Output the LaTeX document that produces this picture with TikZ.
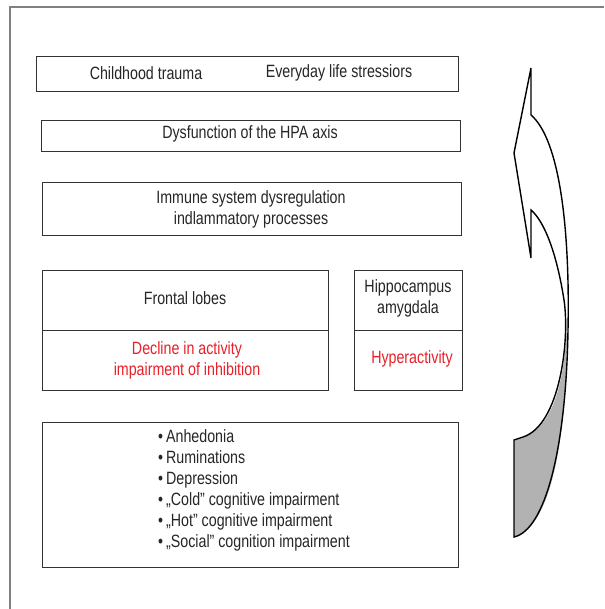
\documentclass[tikz,border=0pt]{standalone}
\usepackage{fontspec}
\setmainfont[FakeStretch=0.8]{Liberation Sans}
\begin{document}
\begin{tikzpicture}[x=1pt,y=-1pt,
  box/.style={draw=black!80, line width=1pt, anchor=north west, inner sep=0pt},
  txt/.style={inner sep=0pt, text=black!85, font=\fontsize{17.8}{21}\selectfont},
  rtxt/.style={txt, text={rgb,255:red,232;green,32;blue,42}},
  frame/.style={draw=black!50, line width=1.3pt}]
\useasboundingbox (0,0) rectangle (604,609);
\fill[white] (0,0) rectangle (604,609);
% frame
\coordinate (fa) at (10,609);
\coordinate (fb) at (10,7);
\coordinate (fc) at (604,7);
\draw[frame] (fa) -- (fb) -- (fc);
% boxes
\node[box, minimum width=422, minimum height=35] (b1) at (36,56) {};
\node[box, minimum width=419, minimum height=31] (b2) at (41,120) {};
\node[box, minimum width=419, minimum height=53] (b3) at (42,182) {};
\node[box, minimum width=286, minimum height=60] (f1) at (42,270) {};
\node[box, minimum width=286, minimum height=60] (f2) at (42,330) {};
\node[box, minimum width=108, minimum height=60] (h1) at (354,270) {};
\node[box, minimum width=108, minimum height=60] (h2) at (354,330) {};
\node[box, minimum width=416, minimum height=145] (b5) at (42,422) {};
% texts
\node[txt] (t1a) at (146,73) {Childhood trauma};
\node[txt] (t1b) at (339,73) {Everyday life stressiors};
\node[txt] (t2) at (250,134) {Dysfunction of the HPA axis};
\node[txt, align=center] (t3) at (251,209) {Immune system dysregulation\\indlammatory processes};
\node[txt] (t4) at (185,298) {Frontal lobes};
\node[rtxt, align=center] (t5) at (187,360) {Decline in activity\\impairment of inhibition};
\node[txt, align=center] (t6) at (408,298) {Hippocampus\\amygdala};
\node[rtxt] (t7) at (412,359) {Hyperactivity};
\node[txt, align=left, anchor=north west] (t8) at (158,429) {•\,Anhedonia\\•\,Ruminations\\•\,Depression\\•\,„Cold” cognitive impairment\\•\,„Hot” cognitive impairment\\•\,„Social” cognition impairment};
% curved arrow
\fill[gray!60] (567,318) .. controls (566,360) and (560,425) .. (523,437) .. controls (518,439) .. (514,440)
  -- (514,537) .. controls (545,530) and (568,460) .. (567,318) -- cycle;
\draw[line width=1.4pt, line join=miter] (531,68) -- (531,115)
  .. controls (560,140) and (570,230) .. (568,330)
  .. controls (566,450) and (545,530) .. (514,537)
  -- (514,440) .. controls (518,439) .. (523,437)
  .. controls (560,425) and (570,340) .. (564,300)
  .. controls (557,255) and (545,222) .. (531,210)
  -- (531,258) -- (514,153) -- cycle;
\end{tikzpicture}
\end{document}
